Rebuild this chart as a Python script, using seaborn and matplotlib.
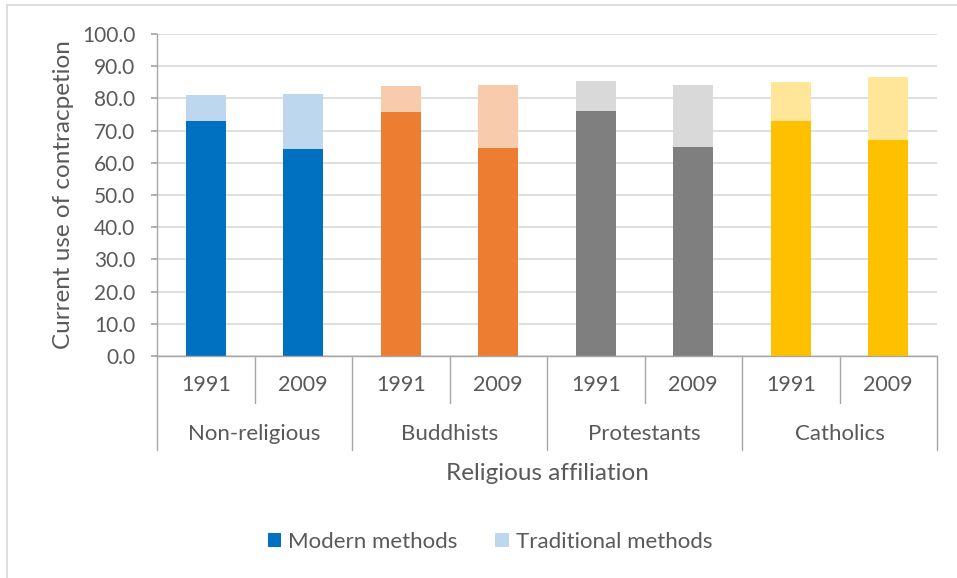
import matplotlib
matplotlib.use("Agg")
import matplotlib.pyplot as plt
import seaborn as sns
import pandas as pd
from matplotlib.patches import Patch, Rectangle
from matplotlib.lines import Line2D
import matplotlib.transforms as mtransforms

groups = ["Non-religious", "Buddhists", "Protestants", "Catholics"]
years = ["1991", "2009"]
modern = [73.1, 64.4, 75.8, 64.7, 76.2, 65.0, 73.1, 67.2]
traditional = [7.9, 17.0, 8.2, 19.6, 9.3, 19.3, 12.1, 19.6]
dark_colors = ["#0070C0", "#ED7D31", "#7F7F7F", "#FFC000"]
light_colors = ["#BDD7EE", "#F8CBAD", "#D9D9D9", "#FFE699"]

rows = []
for gi, g in enumerate(groups):
    for yi, y in enumerate(years):
        k = gi * 2 + yi
        rows.append({"key": f"{g}|{y}", "group": g, "year": y,
                     "modern": modern[k], "total": modern[k] + traditional[k]})
df = pd.DataFrame(rows)
order = list(df["key"])

sns.set_theme(style="white")
txt = "#595959"
plt.rcParams["font.family"] = ["Lato", "DejaVu Sans"]

fig = plt.figure(figsize=(9.57, 5.78), dpi=100)
ax = fig.add_axes([157/957, 222/578, 780/957, 322/578])

sns.barplot(data=df, x="key", y="total", hue="group", order=order, hue_order=groups,
            palette=light_colors, dodge=False, width=0.41, legend=False, ax=ax,
            saturation=1, linewidth=0)
sns.barplot(data=df, x="key", y="modern", hue="group", order=order, hue_order=groups,
            palette=dark_colors, dodge=False, width=0.41, legend=False, ax=ax,
            saturation=1, linewidth=0)

ax.set_ylim(0, 100)
ax.set_xlim(-0.5, 7.5)
ax.set_yticks(range(0, 101, 10))
ax.set_yticklabels([f"{v:.1f}" for v in range(0, 101, 10)], fontsize=15, color=txt)
ax.yaxis.grid(True, color="#D9D9D9", linewidth=1.2)
ax.set_axisbelow(True)
ax.set_xticks([])
ax.set_xlabel("")
ax.set_ylabel("Current use of contracpetion", fontsize=17.5, color=txt, labelpad=6)
for s in ["top", "right"]:
    ax.spines[s].set_visible(False)
for s in ["left", "bottom"]:
    ax.spines[s].set_color("#A6A6A6")
    ax.spines[s].set_linewidth(1)
ax.tick_params(axis="y", which="both", left=True, length=4.5, color="#A6A6A6", pad=11)

trans = mtransforms.blended_transform_factory(ax.transData, ax.transAxes)
inner = -47/322
outer = -94/322
for i in range(9):
    xb = i - 0.5
    yend = outer if i % 2 == 0 else inner
    ax.add_line(Line2D([xb, xb], [0, yend], transform=trans, color="#A6A6A6",
                       linewidth=1, clip_on=False))
for k in range(8):
    ax.text(k, -29/322, years[k % 2], transform=trans, ha="center", va="center",
            fontsize=15.5, color=txt)
for gi, g in enumerate(groups):
    ax.text(gi * 2 + 0.5, -78/322, g, transform=trans, ha="center", va="center",
            fontsize=16, color=txt)
ax.text(0.5, -117/322, "Religious affiliation", transform=ax.transAxes, ha="center",
        va="center", fontsize=17.5, color=txt)

handles = [Patch(facecolor=dark_colors[0], edgecolor="none", label="Modern methods"),
           Patch(facecolor=light_colors[0], edgecolor="none", label="Traditional methods")]
fig.legend(handles=handles, loc="center", bbox_to_anchor=(0.512, 36/578), ncol=2,
           frameon=False, fontsize=16, labelcolor=txt, handlelength=0.62,
           handleheight=0.62, handletextpad=0.3, columnspacing=1.7)

fig.add_artist(Rectangle((6.5/957, -0.05), 1.2, 1.05 - 5.5/578, transform=fig.transFigure,
                         fill=False, edgecolor="#D9D9D9", linewidth=1.2))

fig.savefig("out.png", dpi=100, facecolor="white")
